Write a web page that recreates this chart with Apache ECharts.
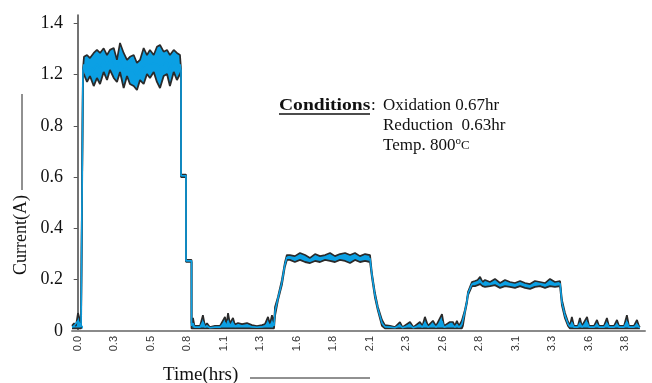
<!DOCTYPE html>
<html>
<head>
<meta charset="utf-8">
<script src="https://cdn.jsdelivr.net/npm/echarts@6.0.0/dist/echarts.min.js"></script>
<style>
  html, body { margin: 0; padding: 0; background: #fff; }
  #chart { width: 652px; height: 383px; }
</style>
</head>
<body>
<div id="chart"></div>
<script>
// ---- data (time in hours, current in A as labelled) ----
const timeHrs = [
  -0.039, -0.025, -0.012, 0.002, 0.012, 0.023, 0.036, 0.036,
  0.043, 0.064, 0.084, 0.110, 0.132, 0.153, 0.178, 0.201, 0.221, 0.247,
  0.269, 0.290, 0.315, 0.338, 0.358, 0.384, 0.406, 0.427, 0.452, 0.475,
  0.495, 0.521, 0.543, 0.564, 0.589, 0.612, 0.632, 0.658, 0.680, 0.701,
  0.708, 0.708, 0.742, 0.742, 0.780, 0.780,
  0.790, 0.800, 0.838, 0.858, 0.872, 0.886, 0.906, 0.941, 0.975, 1.009,
  1.020, 1.030, 1.043, 1.064, 1.077, 1.098, 1.126, 1.160, 1.194, 1.228,
  1.263, 1.283, 1.304, 1.317, 1.331, 1.345,
  1.352, 1.372, 1.399, 1.419, 1.433,
  1.454, 1.488, 1.523, 1.558, 1.592, 1.626, 1.660, 1.695, 1.729, 1.763,
  1.797, 1.832, 1.866, 1.900, 1.934, 1.969, 2.003,
  2.016, 2.037, 2.057, 2.085, 2.105,
  2.140, 2.174, 2.208, 2.225, 2.277, 2.300, 2.345, 2.362, 2.379, 2.400,
  2.434, 2.455, 2.496, 2.510, 2.550, 2.571, 2.585, 2.598, 2.612, 2.632,
  2.639, 2.653, 2.667, 2.674, 2.701,
  2.722, 2.740, 2.757, 2.774, 2.791, 2.825, 2.859, 2.894, 2.928, 2.962,
  2.996, 3.031, 3.065, 3.099, 3.133, 3.168, 3.202, 3.236, 3.270, 3.305,
  3.318, 3.339, 3.360, 3.373,
  3.386, 3.400, 3.427, 3.441, 3.455, 3.490, 3.504, 3.538, 3.558, 3.572,
  3.606, 3.626, 3.640, 3.675, 3.695, 3.709, 3.743, 3.763, 3.777, 3.811,
  3.832, 3.845, 3.852
];
const currentHigh = [
  0.02, 0.03, 0.02, 0.07, 0.05, 0.02, 0.02, 1.22,
  1.269, 1.276, 1.264, 1.284, 1.296, 1.284, 1.302, 1.276, 1.296, 1.303,
  1.257, 1.323, 1.284, 1.257, 1.269, 1.276, 1.245, 1.257, 1.303, 1.276,
  1.296, 1.276, 1.308, 1.315, 1.289, 1.296, 1.276, 1.296, 1.284, 1.276,
  1.22, 0.61, 0.61, 0.277, 0.277, 0.03,
  0.051, 0.02, 0.02, 0.062, 0.02, 0.03, 0.015, 0.02, 0.02, 0.055,
  0.025, 0.07, 0.03, 0.051, 0.025, 0.031, 0.027, 0.031, 0.023, 0.019,
  0.023, 0.027, 0.055, 0.027, 0.062, 0.03,
  0.094, 0.133, 0.199, 0.265, 0.296,
  0.296, 0.292, 0.304, 0.296, 0.285, 0.300, 0.292, 0.296, 0.304, 0.292,
  0.300, 0.304, 0.296, 0.304, 0.292, 0.300, 0.296,
  0.226, 0.148, 0.094, 0.043, 0.023,
  0.02, 0.015, 0.035, 0.015, 0.035, 0.015, 0.035, 0.02, 0.055, 0.02,
  0.04, 0.02, 0.066, 0.02, 0.035, 0.035, 0.02, 0.04, 0.02, 0.04,
  0.035, 0.082, 0.121, 0.152, 0.191,
  0.195, 0.199, 0.211, 0.191, 0.199, 0.191, 0.203, 0.187, 0.199, 0.191,
  0.187, 0.195, 0.187, 0.183, 0.195, 0.191, 0.187, 0.203, 0.191, 0.195,
  0.121, 0.070, 0.035, 0.023,
  0.055, 0.02, 0.02, 0.051, 0.02, 0.055, 0.02, 0.02, 0.043, 0.02,
  0.02, 0.051, 0.02, 0.02, 0.043, 0.02, 0.02, 0.062, 0.02, 0.02,
  0.043, 0.02, 0.015
];
const currentLow = [
  0.01, 0.01, 0.01, 0.01, 0.01, 0.01, 0.01, 1.21,
  1.210, 1.142, 1.188, 1.110, 1.173, 1.126, 1.210, 1.157, 1.218, 1.173,
  1.142, 1.210, 1.095, 1.188, 1.126, 1.110, 1.079, 1.157, 1.126, 1.202,
  1.173, 1.210, 1.142, 1.095, 1.188, 1.202, 1.110, 1.210, 1.157, 1.202,
  1.21, 0.60, 0.60, 0.27, 0.27, 0.01,
  0.01, 0.01, 0.01, 0.01, 0.01, 0.01, 0.01, 0.01, 0.01, 0.01,
  0.01, 0.01, 0.01, 0.01, 0.01, 0.01, 0.01, 0.01, 0.01, 0.01,
  0.01, 0.01, 0.01, 0.01, 0.01, 0.01,
  0.06, 0.12, 0.18, 0.25, 0.277,
  0.277, 0.269, 0.277, 0.269, 0.265, 0.273, 0.269, 0.277, 0.273, 0.269,
  0.277, 0.273, 0.265, 0.277, 0.269, 0.273, 0.269,
  0.21, 0.13, 0.08, 0.02, 0.01,
  0.01, 0.01, 0.01, 0.01, 0.01, 0.01, 0.01, 0.01, 0.01, 0.01,
  0.01, 0.01, 0.01, 0.01, 0.01, 0.01, 0.01, 0.01, 0.01, 0.01,
  0.02, 0.07, 0.11, 0.14, 0.175,
  0.175, 0.179, 0.183, 0.175, 0.172, 0.175, 0.179, 0.168, 0.175, 0.172,
  0.168, 0.175, 0.168, 0.164, 0.172, 0.175, 0.168, 0.175, 0.172, 0.175,
  0.10, 0.05, 0.02, 0.01,
  0.01, 0.01, 0.01, 0.01, 0.01, 0.01, 0.01, 0.01, 0.01, 0.01,
  0.01, 0.01, 0.01, 0.01, 0.01, 0.01, 0.01, 0.01, 0.01, 0.01,
  0.01, 0.01, 0.01
];
const xTickValues = [0, 0.25, 0.5, 0.75, 1.0, 1.25, 1.5, 1.75, 2.0, 2.25, 2.5, 2.75, 3.0, 3.25, 3.5, 3.75];
const xTickLabels = ['0.0','0.3','0.5','0.8','1.1','1.3','1.6','1.8','2.1','2.3','2.6','2.8','3.1','3.3','3.6','3.8'];
// the reference's current axis: equally spaced labels (1.0 is absent)
const yTickLabels = ['0','0.2','0.4','0.6','0.8','1.2','1.4'];
const yTickAmps   = [0, 0.2, 0.4, 0.6, 0.8, 1.2, 1.4];

// piecewise map from labelled amps to the equally spaced label positions
function toAxis(v) {
  for (let i = 1; i < yTickAmps.length; i++) {
    if (v <= yTickAmps[i] || i === yTickAmps.length - 1) {
      const a = yTickAmps[i - 1], b = yTickAmps[i];
      return (i - 1) + (v - a) / (b - a);
    }
  }
}

const highPos = timeHrs.map((t, i) => [t, toAxis(currentHigh[i])]);
const lowPos = timeHrs.map((t, i) => [t, toAxis(currentLow[i])]);
const midPos = timeHrs.map((t, i) => [t, (toAxis(currentHigh[i]) + toAxis(currentLow[i])) / 2]);

const BLUE = '#0ba0e4';
const DARK = '#2a2a2a';
const SERIF = '"Liberation Serif", "Times New Roman", serif';

function txt(text, x, y, font, extra) {
  return Object.assign({ type: 'text', x: x, y: y,
    style: { text: text, font: font, fill: '#111', align: 'left', verticalAlign: 'middle', textAlign: 'left', textVerticalAlign: 'middle' } }, extra || {});
}

const chart = echarts.init(document.getElementById('chart'), null, { renderer: 'canvas' });
chart.setOption({
  animation: false,
  backgroundColor: '#fff',
  grid: { left: 72, right: 7, top: 15, bottom: 52, containLabel: false },
  xAxis: {
    type: 'value',
    min: -0.039,
    max: 3.887,
    splitLine: { show: false },
    axisTick: { show: false },
    axisLine: { show: true, onZero: false, lineStyle: { color: '#8a8a8a', width: 2 } },
    axisLabel: {
      customValues: xTickValues,
      rotate: 90,
      margin: 5,
      fontSize: 11,
      fontFamily: '"Liberation Sans", Arial, sans-serif',
      color: '#333',
      formatter: v => xTickLabels[Math.round(v / 0.25)] || ''
    }
  },
  yAxis: {
    type: 'value',
    min: 0,
    max: 6.16,
    splitLine: { show: false },
    axisLine: { show: true, lineStyle: { color: '#444', width: 1.5 } },
    axisTick: { show: true, customValues: [1, 2, 3, 4, 5, 6], length: 4, lineStyle: { color: '#555', width: 1 } },
    axisLabel: {
      customValues: [0, 1, 2, 3, 4, 5, 6],
      margin: 9,
      fontSize: 18,
      fontFamily: SERIF,
      color: '#111',
      formatter: v => yTickLabels[Math.round(v)] || ''
    }
  },
  series: [
    {
      // blue band between the low and high envelopes of the noisy trace
      name: 'band', type: 'custom', data: [[0, 0]], z: 2, silent: true,
      renderItem: function (params, api) {
        const pts = [];
        for (let i = 0; i < highPos.length; i++) pts.push(api.coord(highPos[i]));
        for (let i = lowPos.length - 1; i >= 0; i--) pts.push(api.coord(lowPos[i]));
        return { type: 'polygon', shape: { points: pts }, style: { fill: BLUE, stroke: null } };
      }
    },
    {
      name: 'high', type: 'line', data: highPos, symbol: 'none',
      lineStyle: { color: DARK, width: 1.7 }, z: 3
    },
    {
      name: 'low', type: 'line', data: lowPos, symbol: 'none',
      lineStyle: { color: DARK, width: 1.8 }, z: 3
    },
    {
      name: 'trace', type: 'line', data: midPos, symbol: 'none',
      lineStyle: { color: BLUE, width: 1.6 }, z: 4
    }
  ],
  graphic: [
    txt('Current(A)', 21.5, 235, '18px ' + SERIF, { rotation: Math.PI / 2,
      style: { text: 'Current(A)', font: '18px ' + SERIF, fill: '#111', align: 'center', verticalAlign: 'middle', textAlign: 'center', textVerticalAlign: 'middle' } }),
    { type: 'line', shape: { x1: 22, y1: 94, x2: 22, y2: 190 }, style: { stroke: '#222', lineWidth: 1 } },
    txt('Time(hrs)', 163, 375, '19px ' + SERIF),
    { type: 'line', shape: { x1: 250, y1: 378, x2: 370, y2: 378 }, style: { stroke: '#222', lineWidth: 1 } },
    txt('Conditions', 279, 106, 'bold 17px ' + SERIF, { scaleX: 1.15 }),
    { type: 'line', shape: { x1: 279, y1: 114, x2: 370, y2: 114 }, style: { stroke: '#111', lineWidth: 1.5 } },
    txt(':', 371, 106, '17px ' + SERIF),
    txt('Oxidation 0.67hr', 383, 106, '17px ' + SERIF),
    txt('Reduction  0.63hr', 383, 126, '17px ' + SERIF),
    { type: 'text', x: 383, y: 146,
      style: {
        text: '{n|Temp. 800}{s|o}{c|C}', fill: '#111', align: 'left', verticalAlign: 'middle', textAlign: 'left', textVerticalAlign: 'middle',
        rich: {
          n: { fontSize: 17, fontFamily: SERIF, fill: '#111', lineHeight: 20 },
          s: { fontSize: 11, fontFamily: SERIF, fill: '#111', verticalAlign: 'top' },
          c: { fontSize: 13, fontFamily: SERIF, fill: '#111' }
        }
      } }
  ]
});
</script>
</body>
</html>
